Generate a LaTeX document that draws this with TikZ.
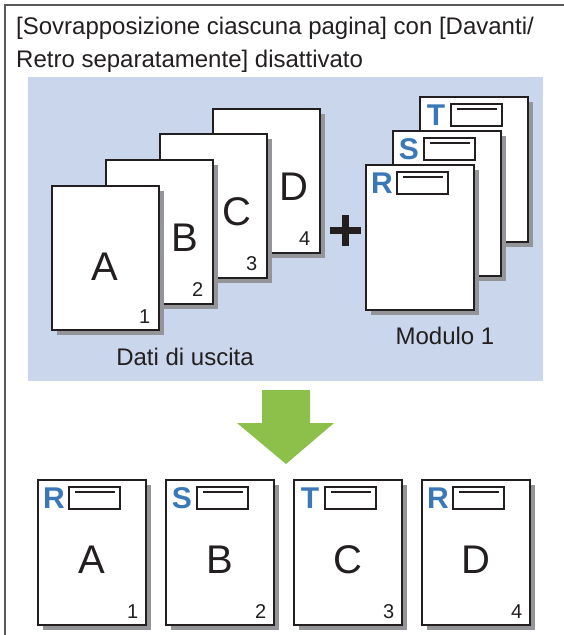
\documentclass[tikz,border=0pt]{standalone}
\usepackage{fontspec}
\setmainfont{Liberation Sans}
\usetikzlibrary{calc,shadows}
\definecolor{bgblue}{HTML}{C9D6EB}
\definecolor{letblue}{HTML}{3B78B8}
\definecolor{arrgreen}{HTML}{8DC04A}
\definecolor{shad}{HTML}{939598}
\definecolor{ink}{HTML}{231F20}
\newcommand\pghdr[2]{%
  \node[tletter] (#1l) at ($(#1.north west)+(17,19)$) {#2};
  \node[hbox] (#1b) at ($(#1.north west)+(31,7)$) {};
  \draw[hline] ($(#1b.north west)+(7,6)$) -- ($(#1b.north east)+(-6,6)$);
}
\begin{document}
\begin{tikzpicture}[x=1pt,y=-1pt,
  page/.style={draw=ink, line width=1.6pt, fill=white, anchor=north west,
    minimum width=107pt, minimum height=144pt, inner sep=0pt,
    drop shadow={shadow xshift=5pt, shadow yshift=-5pt, fill=shad, opacity=1}},
  bigl/.style={font=\fontsize{40}{40}\selectfont, text=ink, inner sep=0pt},
  numl/.style={font=\fontsize{20}{20}\selectfont, text=ink, inner sep=0pt},
  tletter/.style={font=\fontsize{30}{30}\selectfont\bfseries, text=letblue, inner sep=0pt},
  hbox/.style={draw=ink, line width=1.5pt, fill=white, anchor=north west,
    minimum width=51pt, minimum height=22pt, inner sep=0pt},
  hline/.style={draw=ink, line width=1.5pt},
  lbl/.style={font=\fontsize{24}{24}\selectfont, text=ink, inner sep=0pt, anchor=base},
  frame/.style={draw=black!65, line width=1.2pt}
]
\useasboundingbox (0,0) rectangle (564,635);
% frame
\draw[frame] (5,635) -- (5,5) -- (564,5);
% title
\node[lbl, anchor=base west] (t1) at (16,34) {[Sovrapposizione ciascuna pagina] con [Davanti/};
\node[lbl, anchor=base west] (t2) at (16,67) {Retro separatamente] disattivato};
% blue panel
\fill[bgblue] (28,77) rectangle (543,381);
% data pages
\node[page] (pD) at (212,108) {};
\node[bigl] (lD) at ($(pD.north east)+(-27,79)$) {D};
\node[numl] (nD) at ($(pD.south east)+(-16,-15)$) {4};
\node[page] (pC) at (159,133) {};
\node[bigl] (lC) at ($(pC.north east)+(-31,79)$) {C};
\node[numl] (nC) at ($(pC.south east)+(-16,-15)$) {3};
\node[page] (pB) at (105,159) {};
\node[bigl] (lB) at ($(pB.north east)+(-29,79)$) {B};
\node[numl] (nB) at ($(pB.south east)+(-16,-15)$) {2};
\node[page] (pA) at (51,185) {};
\node[bigl] (lA) at ($(pA.north west)+(54,82)$) {A};
\node[numl] (nA) at ($(pA.south east)+(-15,-14)$) {1};
\node[lbl] (dati) at (185,365) {Dati di uscita};
% plus
\fill[ink] (330,227) rectangle (361,234);
\fill[ink] (342,215) rectangle (349,246);
% template pages
\node[page, minimum width=108pt, minimum height=145pt] (mT) at (419,96) {};
\pghdr{mT}{T}
\node[page, minimum width=108pt, minimum height=145pt] (mS) at (392,130) {};
\pghdr{mS}{S}
\node[page, minimum width=108pt, minimum height=145pt] (mR) at (365,164) {};
\pghdr{mR}{R}
\node[lbl] (mod) at (445,344) {Modulo 1};
% arrow
\fill[arrgreen] (262,390) -- (310,390) -- (310,423) -- (334,423) -- (286,464) -- (237,423) -- (262,423) -- cycle;
% result pages
\node[page, minimum width=108pt, minimum height=145pt] (r1) at (37,479) {};
\pghdr{r1}{R}
\node[bigl] (r1L) at ($(r1.north west)+(55,81)$) {A};
\node[numl] (r1N) at ($(r1.south east)+(-14,-14)$) {1};
\node[page, minimum width=108pt, minimum height=145pt] (r2) at (165,479) {};
\pghdr{r2}{S}
\node[bigl] (r2L) at ($(r2.north west)+(55,81)$) {B};
\node[numl] (r2N) at ($(r2.south east)+(-14,-14)$) {2};
\node[page, minimum width=108pt, minimum height=145pt] (r3) at (293,479) {};
\pghdr{r3}{T}
\node[bigl] (r3L) at ($(r3.north west)+(55,81)$) {C};
\node[numl] (r3N) at ($(r3.south east)+(-14,-14)$) {3};
\node[page, minimum width=108pt, minimum height=145pt] (r4) at (421,479) {};
\pghdr{r4}{R}
\node[bigl] (r4L) at ($(r4.north west)+(55,81)$) {D};
\node[numl] (r4N) at ($(r4.south east)+(-14,-14)$) {4};
\end{tikzpicture}
\end{document}
